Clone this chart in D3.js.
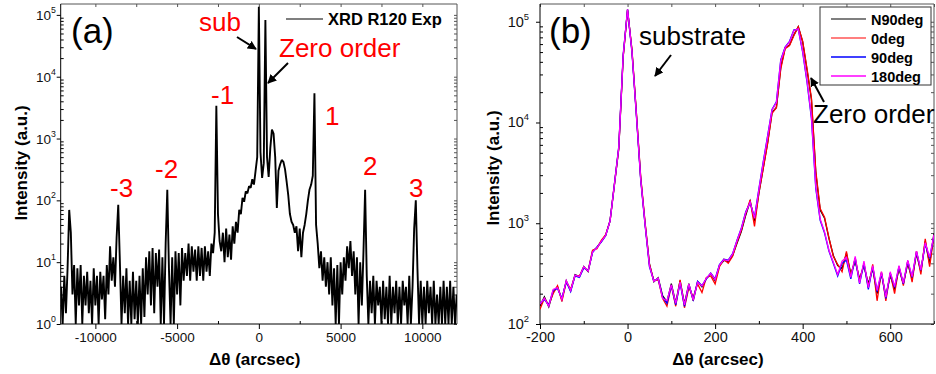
<!DOCTYPE html>
<html>
<head>
<meta charset="utf-8">
<script src="https://cdn.jsdelivr.net/npm/d3@7"></script>
<style>
    body { margin: 0; background: #fff; }
    text { font-family: "Liberation Sans", Arial, sans-serif; }
</style>
</head>
<body>
<div id="chart"></div>
<script>
// panel (a): wide omega-2theta scan, one value every 100 arcsec from -12100 to 12100
var scanX = d3.range(-12100, 12101, 100);
var scanI = [
    4, 1, 6, 1.5, 8, 70, 30, 3, 9, 1,                       // -12100
    8, 2, 9, 1, 6, 2, 7, 1.5, 5, 1,                         // -11100
    8, 2, 6, 1, 7, 2.5, 6, 1.2, 9, 3,                       // -10100
    18, 5, 12, 4, 25, 85, 10, 1, 6, 1.5,                    // -9100
    8, 1, 5, 1, 7, 1.2, 5, 1, 6, 1,                         // -8100
    8, 1.3, 12, 3, 15, 2, 17, 1.5, 14, 4,                   // -7100
    16, 1, 12, 1, 20, 148, 8, 1, 12, 1,                     // -6100
    15, 3, 14, 2, 17, 5, 14, 6, 20, 5,                      // -5100
    18, 7, 16, 5, 18, 6, 17, 5, 18, 7,                      // -4100
    15, 6, 20, 14, 30, 3400, 60, 22, 15, 30,                // -3100
    10, 35, 12, 28, 11, 38, 20, 45, 30, 70,                 // -2100
    60, 110, 95, 140, 130, 170, 160, 220, 180, 300,         // -1100
    500, 135000, 600, 230, 400, 83000, 500, 240, 700, 1400, // -100
    1200, 500, 75, 300, 380, 450, 420, 320, 200, 120,       // 900
    60, 45, 40, 30, 38, 15, 35, 12, 30, 40,                 // 1900
    60, 100, 150, 180, 250, 5400, 40, 20, 8, 15,            // 2900
    5, 12, 4, 10, 3, 12, 2, 8, 1, 9,                        // 3900
    1, 10, 3, 12, 5, 18, 8, 22, 6, 15,                      // 4900
    3, 12, 1, 10, 2, 15, 148, 6, 1, 5,                      // 5900
    1.5, 6, 1, 5, 2, 4, 1, 5, 1.2, 4,                       // 6900
    1, 6, 1, 4, 1.5, 5, 1, 4, 1, 5,                         // 7900
    2, 4, 1, 6, 1, 4, 35, 100, 8, 1,                        // 8900
    5, 1, 4, 1, 5, 1.5, 4, 1, 5, 1,                         // 9900
    3, 1, 4, 1, 5, 1, 4, 1, 5, 1,                           // 10900
    4, 1, 3                                                 // 11900
];
var peakLabels = ["-3", "-2", "-1", "1", "2", "3"];

// panel (b): rocking curves at four azimuths, one value every 10 arcsec from -200 to 700
var rockX = d3.range(-200, 701, 10);
var rockN90 = [
    151, 186, 148, 209, 234, 174, 269, 214, 309, 295,
    372, 331, 525, 575, 661, 759, 1047, 2399, 5495, 44670,
    131800, 52480, 12590, 2818, 1000, 398, 263, 288, 191, 166,
    251, 162, 269, 158, 251, 170, 263, 234, 282, 316,
    269, 380, 427, 417, 479, 631, 832, 1202, 1660, 1047,
    1995, 3548, 6310, 12590, 14130, 35480, 54950, 58880, 74130, 89130,
    63100, 33110, 16980, 3162, 1349, 1122, 708, 479, 380, 355,
    501, 316, 417, 282, 380, 251, 355, 200, 316, 191,
    302, 224, 355, 251, 398, 282, 501, 331, 661, 398,
    794
];
var rock0 = [
    140, 180, 155, 200, 240, 168, 260, 222, 300, 300,
    365, 340, 540, 560, 675, 770, 1060, 2450, 5600, 45000,
    130000, 53000, 12800, 2900, 1020, 390, 270, 275, 180, 150,
    240, 150, 275, 145, 230, 185, 250, 205, 290, 300,
    250, 370, 440, 400, 470, 650, 850, 1250, 1700, 930,
    2000, 3500, 6200, 12300, 14000, 34000, 54000, 58000, 73000, 89000,
    64000, 34000, 17500, 3300, 1400, 1150, 720, 470, 390, 330,
    525, 300, 450, 270, 400, 230, 390, 170, 330, 170,
    320, 200, 370, 240, 420, 260, 530, 310, 700, 370,
    760
];
var rock90 = [
    160, 175, 155, 215, 225, 180, 262, 210, 300, 290,
    360, 340, 510, 580, 650, 750, 1060, 2450, 5800, 47000,
    132000, 50000, 12000, 2700, 960, 370, 270, 280, 185, 160,
    240, 155, 255, 150, 245, 175, 265, 240, 280, 320,
    280, 390, 440, 430, 500, 680, 900, 1300, 1600, 1150,
    2200, 4100, 7400, 13500, 16000, 42000, 56000, 64000, 83000, 84000,
    50000, 25000, 11000, 2200, 1070, 800, 530, 400, 300, 400,
    430, 280, 450, 250, 400, 220, 370, 210, 320, 180,
    320, 230, 370, 250, 420, 290, 520, 340, 620, 450,
    750
];
var rock180 = [
    158, 180, 150, 220, 230, 175, 270, 215, 305, 295,
    370, 335, 520, 570, 660, 755, 1050, 2420, 5700, 46000,
    133000, 51000, 12200, 2750, 980, 380, 265, 285, 180, 170,
    245, 160, 260, 155, 250, 172, 260, 238, 285, 318,
    275, 385, 435, 425, 495, 670, 890, 1280, 1620, 1120,
    2150, 4000, 7200, 13300, 15800, 41000, 55500, 63000, 82000, 85000,
    51000, 26000, 11500, 2300, 1100, 820, 540, 410, 310, 420,
    460, 290, 470, 255, 420, 230, 380, 215, 330, 185,
    330, 235, 380, 255, 430, 295, 530, 345, 640, 460,
    770
];
var rockNames = ["N90deg", "0deg", "90deg", "180deg"];
var rockColors = ["#000000", "#ff0000", "#0000ff", "#ff00ff"];

var plotTop = 4, plotBottom = 324;

var svg = d3.select("#chart").append("svg")
    .attr("width", 936)
    .attr("height", 374)
    .style("background", "#fff");

// arrow head used by the annotations
svg.append("defs").append("marker")
    .attr("id", "head")
    .attr("viewBox", "0 0 10 10")
    .attr("refX", 9).attr("refY", 5)
    .attr("markerWidth", 4.5).attr("markerHeight", 4.5)
    .attr("orient", "auto")
    .append("path").attr("d", "M0,0 L10,5 L0,10 z").attr("fill", "#000");

// draws frame, ticks and labels of one panel and returns its scales
function panel(id, left, right, xDomain, yDomain, xMajor, xMinor, fontSize, labelEnd) {
    var x = d3.scaleLinear().domain(xDomain).range([left, right]);
    var y = d3.scaleLog().domain(yDomain).range([plotBottom, plotTop]);

    svg.append("clipPath").attr("id", "clip" + id)
        .append("rect").attr("x", left).attr("y", plotTop)
        .attr("width", right - left).attr("height", plotBottom - plotTop);

    // log ticks
    var lo = Math.ceil(Math.log10(yDomain[0])), hi = Math.floor(Math.log10(yDomain[1]));
    var yMajor = d3.range(lo, hi + 1).map(function (e) { return Math.pow(10, e); });
    var yMinor = [];
    d3.range(lo, hi + 1).forEach(function (e) {
        for (var k = 2; k <= 9; k++) {
            var v = k * Math.pow(10, e);
            if (v < yDomain[1]) yMinor.push(v);
        }
    });

    var g = svg.append("g").attr("class", "axes" + id);

    // bottom axis
    g.append("g").attr("transform", "translate(0," + plotBottom + ")")
        .call(d3.axisBottom(x).tickValues(xMajor).tickSize(5).tickPadding(3).tickFormat(d3.format("d")))
        .call(function (s) {
            s.select(".domain").remove();
            s.selectAll("text").attr("font-size", fontSize).attr("fill", "#111")
                .style("font-family", "'Liberation Sans', Arial, sans-serif")
                .text(function (d) { return d < 0 ? "-" + Math.abs(d) : d; });
        });
    g.append("g").attr("transform", "translate(0," + plotBottom + ")")
        .call(d3.axisBottom(x).tickValues(xMinor).tickSize(-3).tickFormat(""))
        .call(function (s) { s.select(".domain").remove(); });

    // top mirror ticks
    g.append("g").attr("transform", "translate(0," + plotTop + ")")
        .call(d3.axisTop(x).tickValues(xMajor.concat(xMinor)).tickSize(-3).tickFormat(""))
        .call(function (s) { s.select(".domain").remove(); s.selectAll("line").attr("stroke", "#555"); });

    // left axis
    g.append("g").attr("transform", "translate(" + left + ",0)")
        .call(d3.axisLeft(y).tickValues(yMajor).tickSize(4).tickFormat(""))
        .call(function (s) { s.select(".domain").remove(); });
    g.append("g").attr("transform", "translate(" + left + ",0)")
        .call(d3.axisLeft(y).tickValues(yMinor).tickSize(-3).tickFormat(""))
        .call(function (s) { s.select(".domain").remove(); });

    // right mirror ticks
    g.append("g").attr("transform", "translate(" + right + ",0)")
        .call(d3.axisRight(y).tickValues(yMajor.concat(yMinor)).tickSize(-3).tickFormat(""))
        .call(function (s) { s.select(".domain").remove(); s.selectAll("line").attr("stroke", "#555"); });

    // y tick labels as 10 with superscript
    yMajor.forEach(function (v) {
        var t = g.append("text")
            .attr("x", labelEnd)
            .attr("y", y(v) + 5)
            .attr("text-anchor", "end")
            .attr("font-size", fontSize)
            .attr("fill", "#111");
        t.append("tspan").text("10");
        t.append("tspan").attr("dy", -7).attr("font-size", fontSize * 0.65)
            .text(Math.round(Math.log10(v)));
    });

    // frame
    g.append("line").attr("x1", left).attr("x2", right).attr("y1", plotTop).attr("y2", plotTop)
        .attr("stroke", "#555");
    g.append("line").attr("x1", right).attr("x2", right).attr("y1", plotTop).attr("y2", plotBottom)
        .attr("stroke", "#555");
    g.append("line").attr("x1", left).attr("x2", right).attr("y1", plotBottom).attr("y2", plotBottom)
        .attr("stroke", "#000");
    g.append("line").attr("x1", left).attr("x2", left).attr("y1", plotTop).attr("y2", plotBottom)
        .attr("stroke", "#000");

    return { x: x, y: y };
}

function axisTitles(cx, cyRot, xRot) {
    svg.append("text")
        .attr("x", cx).attr("y", 365)
        .attr("text-anchor", "middle")
        .attr("font-size", 17).attr("font-weight", "bold")
        .text("\u0394\u03b8 (arcsec)");
    svg.append("text")
        .attr("transform", "translate(" + xRot + "," + cyRot + ") rotate(-90)")
        .attr("text-anchor", "middle")
        .attr("font-size", 17).attr("font-weight", "bold")
        .text("Intensity (a.u.)");
}

function arrow(x1, y1, x2, y2) {
    svg.append("line")
        .attr("x1", x1).attr("y1", y1).attr("x2", x2).attr("y2", y2)
        .attr("stroke", "#000").attr("stroke-width", 2)
        .attr("marker-end", "url(#head)");
}

function label(txt, x, y, size, color) {
    svg.append("text").attr("x", x).attr("y", y)
        .attr("font-size", size).attr("fill", color).text(txt);
}

// ---------- panel (a) ----------
var a = panel("A", 60.7, 457, [-12120, 12120], [1, 1.5e5],
    [-10000, -5000, 0, 5000, 10000], [-7500, -2500, 2500, 7500], 13.5, 56);

// thick stroke so the noisy scan reads as a dense band like the original
svg.append("path")
    .datum(d3.zip(scanX, scanI))
    .attr("clip-path", "url(#clipA)")
    .attr("fill", "none")
    .attr("stroke", "#000")
    .attr("stroke-width", 1.9)
    .attr("stroke-linejoin", "bevel")
    .attr("d", d3.line()
        .x(function (d) { return a.x(d[0]); })
        .y(function (d) { return a.y(d[1]); }));

axisTitles(254.7, 163, 27);

// legend (a)
svg.append("line").attr("x1", 286).attr("x2", 323).attr("y1", 19).attr("y2", 19)
    .attr("stroke", "#555").attr("stroke-width", 1.5);
svg.append("text").attr("x", 328).attr("y", 25)
    .attr("font-size", 16.5).attr("font-weight", "bold").text("XRD R120 Exp");

label("(a)", 71, 43, 35, "#000");
label("sub", 199, 31, 26, "#ff0000");
label("Zero order", 279, 57, 26, "#ff0000");
arrow(237, 37, 256, 49);
arrow(288, 63, 268, 83);

// diffraction order labels
var orderPos = [[110, 197], [155, 178], [211, 104], [325, 125], [363, 175], [409, 197]];
peakLabels.forEach(function (t, i) {
    label(t, orderPos[i][0], orderPos[i][1], 26, "#ff0000");
});

// ---------- panel (b) ----------
var b = panel("B", 540, 934, [-200, 700], [100, 1.5e5],
    [-200, 0, 200, 400, 600], [-100, 100, 300, 500, 700], 14.5, 529);

var rockSeries = [rockN90, rock0, rock90, rock180];
var rockLine = d3.line()
    .x(function (d) { return b.x(d[0]); })
    .y(function (d) { return b.y(d[1]); });

rockSeries.forEach(function (s, i) {
    svg.append("path")
        .datum(d3.zip(rockX, s))
        .attr("clip-path", "url(#clipB)")
        .attr("fill", "none")
        .attr("stroke", rockColors[i])
        .attr("stroke-width", 1.3)
        .attr("d", rockLine);
});

axisTitles(718, 168, 499);

label("(b)", 549, 43, 35, "#000");
label("substrate", 639, 45, 26, "#000");
arrow(671, 55, 655, 76);
label("Zero order", 813, 123, 26, "#000");
arrow(824, 102, 811, 78);

// legend (b)
var leg = svg.append("g");
leg.append("rect").attr("x", 820).attr("y", 7).attr("width", 111).attr("height", 78)
    .attr("fill", "#fff").attr("stroke", "#333").attr("stroke-width", 1);
rockNames.forEach(function (n, i) {
    var ly = 19 + i * 19;
    leg.append("line").attr("x1", 831).attr("x2", 866).attr("y1", ly).attr("y2", ly)
        .attr("stroke", rockColors[i]).attr("stroke-width", i > 1 ? 1.8 : 1.2)
        .attr("stroke-opacity", i > 1 ? 0.75 : 1);
    leg.append("text").attr("x", 871).attr("y", ly + 5.5)
        .attr("font-size", 14.5).attr("font-weight", "bold").text(n);
});
</script>
</body>
</html>
